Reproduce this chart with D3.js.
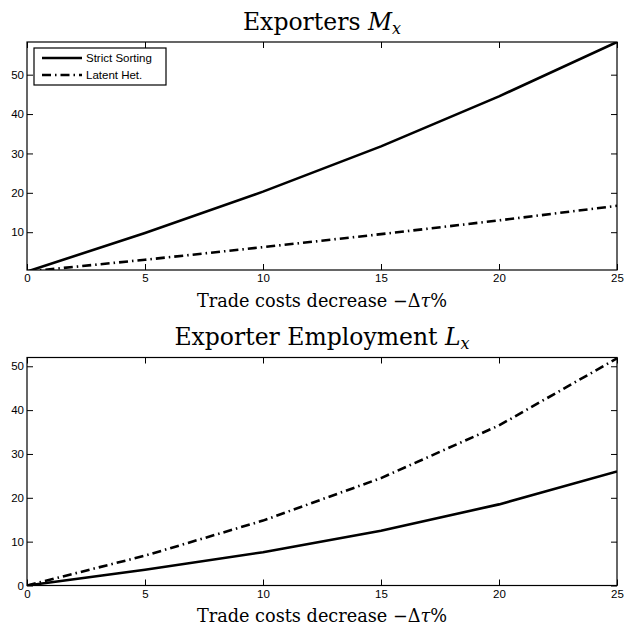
<!DOCTYPE html>
<html><head><meta charset="utf-8">
<script src="https://cdn.jsdelivr.net/npm/d3@7"></script>
<style>body{margin:0;background:#fff}svg{display:block}</style>
</head><body>
<svg id="c" width="626" height="628"></svg>
<script>
const xValues = [0, 5, 10, 15, 20, 25];
const xTicks = [0, 5, 10, 15, 20, 25];
const seriesNames = ["Strict Sorting", "Latent Het."];
// Panel 1: Exporters M_x
const mxStrict = [0, 9.8, 20.3, 31.8, 44.5, 58.3];
const mxLatent = [0, 3.0, 6.2, 9.5, 13.0, 16.7];
const mxTicks = [10, 20, 30, 40, 50];
// Panel 2: Exporter Employment L_x
const lxStrict = [0, 3.6, 7.6, 12.5, 18.5, 26.0];
const lxLatent = [0, 6.8, 14.8, 24.5, 36.5, 51.8];
const lxTicks = [0, 10, 20, 30, 40, 50];

const svg = d3.select("#c");
const L = 27, R = 617;
const panels = [
  {title: "Exporters ", sub: "M", subx: "x", top: 42, bottom: 270, ydom: [0.4, 58.3], yt: mxTicks, s: [mxStrict, mxLatent], legend: true},
  {title: "Exporter Employment ", sub: "L", subx: "x", top: 357.5, bottom: 585.5, ydom: [0, 52], yt: lxTicks, s: [lxStrict, lxLatent], legend: false}
];
const styles = [{dash: null}, {dash: "9,4,1.5,4"}];

panels.forEach((p, i) => {
  const x = d3.scaleLinear().domain([0, 25]).range([L, R]);
  const y = d3.scaleLinear().domain(p.ydom).range([p.bottom, p.top]);
  const g = svg.append("g");
  const clipId = "clip" + i;
  g.append("clipPath").attr("id", clipId).append("rect")
    .attr("x", L).attr("y", p.top).attr("width", R - L).attr("height", p.bottom - p.top);

  const tl = 6;
  const axB = d3.axisBottom(x).tickValues(xTicks).tickSizeInner(-tl).tickSizeOuter(0).tickPadding(4);
  const axT = d3.axisTop(x).tickValues(xTicks).tickSizeInner(-tl).tickSizeOuter(0).tickFormat("");
  const axL = d3.axisLeft(y).tickValues(p.yt).tickSizeInner(-tl).tickSizeOuter(0).tickPadding(3);
  const axR = d3.axisRight(y).tickValues(p.yt).tickSizeInner(-tl).tickSizeOuter(0).tickFormat("");
  [[axB, `translate(0,${p.bottom})`], [axT, `translate(0,${p.top})`], [axL, `translate(${L},0)`], [axR, `translate(${R},0)`]]
    .forEach(([a, t]) => {
      const ag = g.append("g").attr("transform", t).call(a);
      ag.select(".domain").remove();
      ag.selectAll("line").attr("stroke", "#000").attr("stroke-width", 1);
      ag.selectAll("text").attr("fill", "#000").style("font-family", "Liberation Sans, Arial, sans-serif").style("font-size", "11.5px");
    });
  g.append("rect").attr("x", L).attr("y", p.top).attr("width", R - L).attr("height", p.bottom - p.top)
    .attr("fill", "none").attr("stroke", "#000").attr("stroke-width", 1.2);

  const line = d3.line().x((d, k) => x(xValues[k])).y(d => y(d));
  p.s.forEach((vals, k) => {
    const path = g.append("path").datum(vals).attr("d", line).attr("clip-path", `url(#${clipId})`)
      .attr("fill", "none").attr("stroke", "#000").attr("stroke-width", 2.6).attr("stroke-linejoin", "round");
    if (styles[k].dash) path.attr("stroke-dasharray", styles[k].dash);
  });

  const t = g.append("text").attr("x", (L + R) / 2).attr("y", p.top - 12.5).attr("text-anchor", "middle")
    .style("font-family", "DejaVu Serif, serif").style("font-size", "23.5px").attr("fill", "#000");
  t.append("tspan").text(p.title);
  t.append("tspan").style("font-style", "italic").text(p.sub);
  t.append("tspan").style("font-style", "italic").style("font-size", "16px").attr("dy", 4).text(p.subx);

  const xl = g.append("text").attr("x", (L + R) / 2).attr("y", p.bottom + 36.5).attr("text-anchor", "middle")
    .style("font-family", "DejaVu Serif, serif").style("font-size", "17.7px").attr("fill", "#000");
  xl.append("tspan").text("Trade costs decrease \u2212\u0394");
  xl.append("tspan").style("font-style", "italic").text("\u03C4");
  xl.append("tspan").text("%");

  if (p.legend) {
    const lg = g.append("g");
    const lx = 34, ly = 48, lw = 132, lh = 37;
    lg.append("rect").attr("x", lx).attr("y", ly).attr("width", lw).attr("height", lh)
      .attr("fill", "#fff").attr("stroke", "#000").attr("stroke-width", 1.2);
    seriesNames.forEach((n, k) => {
      const yy = ly + 10 + k * 17;
      const ln = lg.append("line").attr("x1", lx + 8).attr("x2", lx + 48).attr("y1", yy).attr("y2", yy)
        .attr("stroke", "#000").attr("stroke-width", 2.6);
      if (styles[k].dash) ln.attr("stroke-dasharray", styles[k].dash);
      lg.append("text").attr("x", lx + 52).attr("y", yy + 4).text(n)
        .style("font-family", "Liberation Sans, Arial, sans-serif").style("font-size", "11.5px").attr("fill", "#000");
    });
  }
});
</script>
</body></html>
